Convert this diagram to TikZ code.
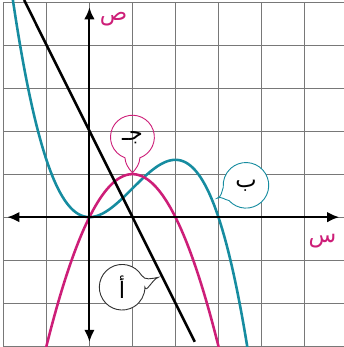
\documentclass[tikz,border=0pt]{standalone}
\usepackage{fontspec}
\newfontfamily\arabicfont[Script=Arabic]{DejaVu Sans}
\TeXXeTstate=1
\usetikzlibrary{arrows.meta}
\definecolor{mag}{RGB}{205,30,120}
\definecolor{tealc}{RGB}{22,140,160}
\definecolor{gridc}{RGB}{120,120,120}
\definecolor{bubk}{RGB}{50,50,50}
\tikzset{
  gridline/.style={draw=gridc, line width=0.8pt},
  curve/.style={line width=1.7pt},
  axis/.style={line width=1.3pt, {Latex[length=8pt,width=7pt]}-{Latex[length=8pt,width=7pt]}},
  axlabel/.style={text=mag, font=\arabicfont\fontsize{15}{17}\selectfont, inner sep=0pt},
  bubtext/.style={text=black, font=\arabicfont\fontsize{15}{17}\selectfont, inner sep=0pt},
  bubble/.style={line width=0.6pt}
}
\begin{document}
\begin{tikzpicture}[x=1cm,y=1cm]
\useasboundingbox (-2.08,-3.02) rectangle (5.92,5.05);
\clip (-2.08,-3.02) rectangle (5.92,5.05);
\draw[gridline] (-2,-3) grid (6,5);
% curves
\draw[curve, tealc] plot[domain=-1.85:3.72, samples=120, smooth] (\x, {\x*\x*(3-\x)/3});
\draw[curve, mag] plot[domain=-1.05:3.05, samples=80, smooth] (\x, {2*\x-\x*\x});
\coordinate (bt) at (-1.52,5.05);
\coordinate (bb) at (2.45,-2.9);
\draw[curve, black] (bt) -- (bb);
% axes
\coordinate (xl) at (-1.91,0);
\coordinate (xr) at (5.81,0);
\coordinate (yb) at (0,-2.9);
\coordinate (yt) at (0,4.88);
\draw[axis] (xl) -- (xr);
\draw[axis] (yb) -- (yt);
\node[axlabel] (ylab) at (0.56,4.6) {\beginR ص\endR};
\node[axlabel] (xlab) at (5.42,-0.55) {\beginR س\endR};
% bubble j
\coordinate (cj) at (1.0,1.86);
\coordinate (tj) at (1.0,1.03);
\draw[bubble, mag] ([shift={(-70:0.51)}]cj) arc[start angle=-70, end angle=250, radius=0.51]
  to[out=-85,in=130] (tj) to[out=50,in=-95] cycle;
\node[bubtext] (lj) at (cj) {\beginR جـ\endR};
% bubble b
\coordinate (cb) at (3.64,0.74);
\coordinate (tb) at (2.97,0.44);
\draw[bubble, tealc, fill=white] ([shift={(222:0.53)}]cb) arc[start angle=222, end angle=545, radius=0.53]
  to[out=250,in=20] (tb) to[out=30,in=170] cycle;
\node[bubtext] (lb) at (cb) {\beginR ب\endR};
% bubble a
\coordinate (ca) at (0.76,-1.63);
\coordinate (ta) at (1.60,-1.40);
\draw[bubble, bubk, fill=white] ([shift={(32:0.53)}]ca) arc[start angle=32, end angle=360, radius=0.53]
  to[out=-80,in=200] (ta) to[out=190,in=-60] cycle;
\node[bubtext] (la) at (ca) {\beginR أ\endR};
\end{tikzpicture}
\end{document}
